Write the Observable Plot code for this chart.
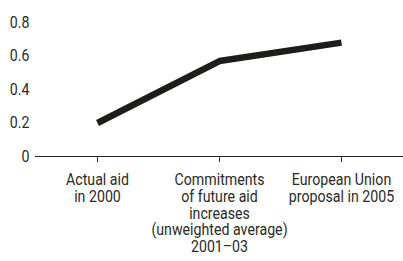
<!DOCTYPE html>
<html>
<head>
<meta charset="utf-8">
<script src="https://cdn.jsdelivr.net/npm/d3@7"></script>
<script src="https://cdn.jsdelivr.net/npm/@observablehq/plot@0.6"></script>
<style>
  html, body { margin: 0; padding: 0; background: #fff; }
  svg { font-family: "Roboto", "Liberation Sans", sans-serif; }
</style>
</head>
<body>
<div id="chart"></div>
<script>
const categories = ["Actual aid in 2000", "Commitments 2001–03", "EU proposal 2005"];
const values = [0.2, 0.57, 0.68];
const tickLabels = [
  "Actual aid\nin 2000",
  "Commitments\nof future aid\nincreases\n(unweighted average)\n2001–03",
  "European Union\nproposal in 2005"
];
const yTicks = [0, 0.2, 0.4, 0.6, 0.8];

const data = categories.map((c, i) => ({category: c, value: values[i]}));
const labelMap = new Map(categories.map((c, i) => [c, tickLabels[i]]));

const chart = Plot.plot({
  width: 403,
  height: 261,
  marginLeft: 35,
  marginRight: 0,
  marginTop: 22,
  marginBottom: 105,
  style: {fontSize: "16.5px", color: "#2a2a2a", background: "#fff"},
  x: {type: "point", domain: categories, padding: 0.5},
  y: {domain: [0, 0.8]},
  marks: [
    Plot.axisY({ticks: yTicks, tickSize: 0, tickPadding: 6, tickFormat: d => d === 0 ? "0" : String(d), label: null, fontSize: 16.5}),
    Plot.axisX({tickSize: 6, tickPadding: 11, tickFormat: d => labelMap.get(d), lineHeight: 1.01, label: null, fontSize: 16.5}),
    Plot.ruleY([0], {stroke: "#222", strokeWidth: 1}),
    Plot.line(data, {x: "category", y: "value", stroke: "#1d1d1b", strokeWidth: 6.5, strokeLinecap: "butt", strokeLinejoin: "miter"})
  ]
});

// Condense the tick label text horizontally (the reference uses a condensed face)
const sx = 0.86;
chart.querySelectorAll("text").forEach(t => {
  let tr = t.getAttribute("transform") || "";
  const x = t.getAttribute("x");
  if (x !== null && isFinite(+x)) {
    tr += ` translate(${+x},0)`;
    t.removeAttribute("x");
  }
  t.setAttribute("transform", `${tr} scale(${sx},1)`.trim());
});
document.getElementById("chart").appendChild(chart);
</script>
</body>
</html>
